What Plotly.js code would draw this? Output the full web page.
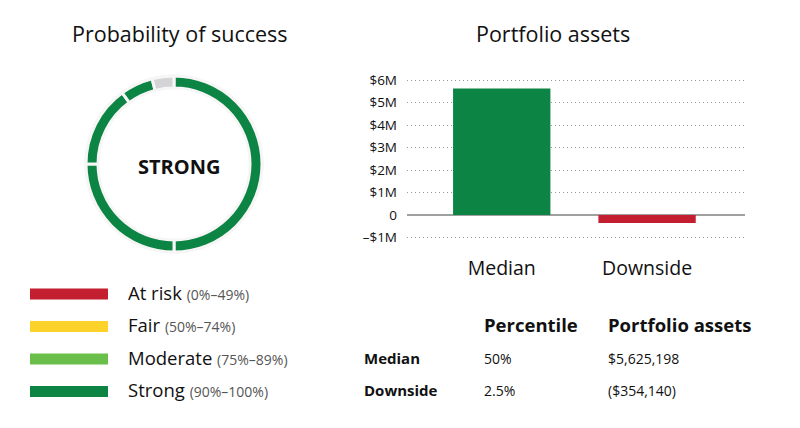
<!DOCTYPE html>
<html><head><meta charset="utf-8">
<script src="https://cdn.plot.ly/plotly-3.0.1.min.js"></script>
<style>html,body{margin:0;padding:0;background:#fff}#chart{width:800px;height:428px}</style>
</head><body><div id="chart"></div>
<script>
// ---- data ----
const ratingLabel = 'STRONG';
const successSegments = [50, 25, 15, 6, 4];
const segmentColors = ['#0c8443', '#0c8443', '#0c8443', '#0c8443', '#d4d4d6'];
const legendNames = ['At risk', 'Fair', 'Moderate', 'Strong'];
const legendRanges = ['(0%–49%)', '(50%–74%)', '(75%–89%)', '(90%–100%)'];
const legendColors = ['#c31f30', '#fdd22b', '#6abf4b', '#0c8443'];
const barCategories = ['Median', 'Downside'];
const barValues = [5625198, -354140];
const barColors = ['#0c8443', '#c31f30'];
const yTickVals = [-1e6, 0, 1e6, 2e6, 3e6, 4e6, 5e6, 6e6];
const yTickText = ['–$1M', '0', '$1M', '$2M', '$3M', '$4M', '$5M', '$6M'];
const tableHeaders = ['Percentile', 'Portfolio assets'];
const tableRows = ['Median', 'Downside'];
const tablePercentiles = ['50%', '2.5%'];
const tableAssets = ['$5,625,198', '($354,140)'];

// ---- layout helpers (pixel -> paper) ----
const W = 800, H = 428;
const px = x => x / W;
const py = y => 1 - y / H;
function ringDomain(cx, cy, r) {
  return { x: [px(cx - r), px(cx + r)], y: [py(cy + r), py(cy - r)] };
}
const FONT = '"Open Sans", "Noto Sans", sans-serif';
const ringCx = 174, ringCy = 164;

const traces = [
  {
    type: 'pie', values: [1], marker: { colors: ['#f1f1f1'] },
    hole: 75 / 89.5, domain: ringDomain(ringCx, ringCy, 89.5),
    textinfo: 'none', hoverinfo: 'skip', showlegend: false, sort: false
  },
  {
    type: 'pie', values: successSegments, direction: 'clockwise', rotation: 0, sort: false,
    marker: { colors: segmentColors, line: { color: '#f6f6f6', width: 3 } },
    hole: 76 / 88, domain: ringDomain(ringCx, ringCy, 88),
    textinfo: 'none', hoverinfo: 'skip', showlegend: false
  },
  {
    type: 'bar', x: barCategories, y: barValues, width: 0.67,
    marker: { color: barColors }, hoverinfo: 'skip', showlegend: false
  }
];

const ann = (text, x, y, size, anchor) => ({
  text: text, x: px(x), y: py(y), xref: 'paper', yref: 'paper', showarrow: false,
  xanchor: anchor || 'left', yanchor: 'middle', font: { family: FONT, size: size, color: '#111' }
});

const annotations = [
  ann('Probability of success', 180, 34, 21.5, 'center'),
  ann('Portfolio assets', 553, 34, 21.5, 'center'),
  ann('<b>' + ratingLabel + '</b>', 179, 166, 20, 'center')
];
const shapes = [];
const legendY = [294, 326.5, 359, 391.5];
legendNames.forEach((n, i) => {
  shapes.push({ type: 'rect', xref: 'paper', yref: 'paper', x0: px(30), x1: px(108), y0: py(legendY[i] + 5.5), y1: py(legendY[i] - 5.5), fillcolor: legendColors[i], line: { width: 0 } });
  annotations.push(ann(n + ' <span style="font-size:14px;color:#555">' + legendRanges[i] + '</span>', 126, legendY[i] - 2, 18.5));
});
const colX = [482, 606];
tableHeaders.forEach((h, i) => annotations.push(ann('<b>' + h + '</b>', colX[i], 324, 18.5)));
const rowY = [358, 390];
tableRows.forEach((r, i) => {
  annotations.push(ann('<b>' + r + '</b>', 362, rowY[i], 15));
  annotations.push(ann(tablePercentiles[i], colX[0], rowY[i], 14));
  annotations.push(ann(tableAssets[i], colX[1], rowY[i], 14));
});

const layout = {
  width: W, height: H,
  margin: { l: 0, r: 0, t: 0, b: 0 },
  paper_bgcolor: '#fff', plot_bgcolor: '#fff',
  showlegend: false,
  font: { family: FONT, color: '#111' },
  xaxis: {
    domain: [px(407), px(745)], range: [-0.652, 1.674], type: 'category',
    showgrid: false, zeroline: false, showline: false, ticks: '',
    tickfont: { family: FONT, size: 19.5, color: '#111' }, ticklabelstandoff: 12, fixedrange: true
  },
  yaxis: {
    domain: [py(242), py(75.5)], range: [-1.2e6, 6.2e6],
    tickvals: yTickVals, ticktext: yTickText, ticks: '',
    showgrid: true, gridcolor: '#9a9a9a', griddash: '1px,3px', gridwidth: 1,
    zeroline: true, zerolinecolor: '#a0a0a0', zerolinewidth: 1.5, showline: false,
    tickfont: { family: FONT, size: 13.5, color: '#111' }, ticklabelstandoff: 9, fixedrange: true
  },
  shapes: shapes,
  annotations: annotations
};

Plotly.newPlot('chart', traces, layout, { displayModeBar: false, staticPlot: true });
</script>
</body></html>
